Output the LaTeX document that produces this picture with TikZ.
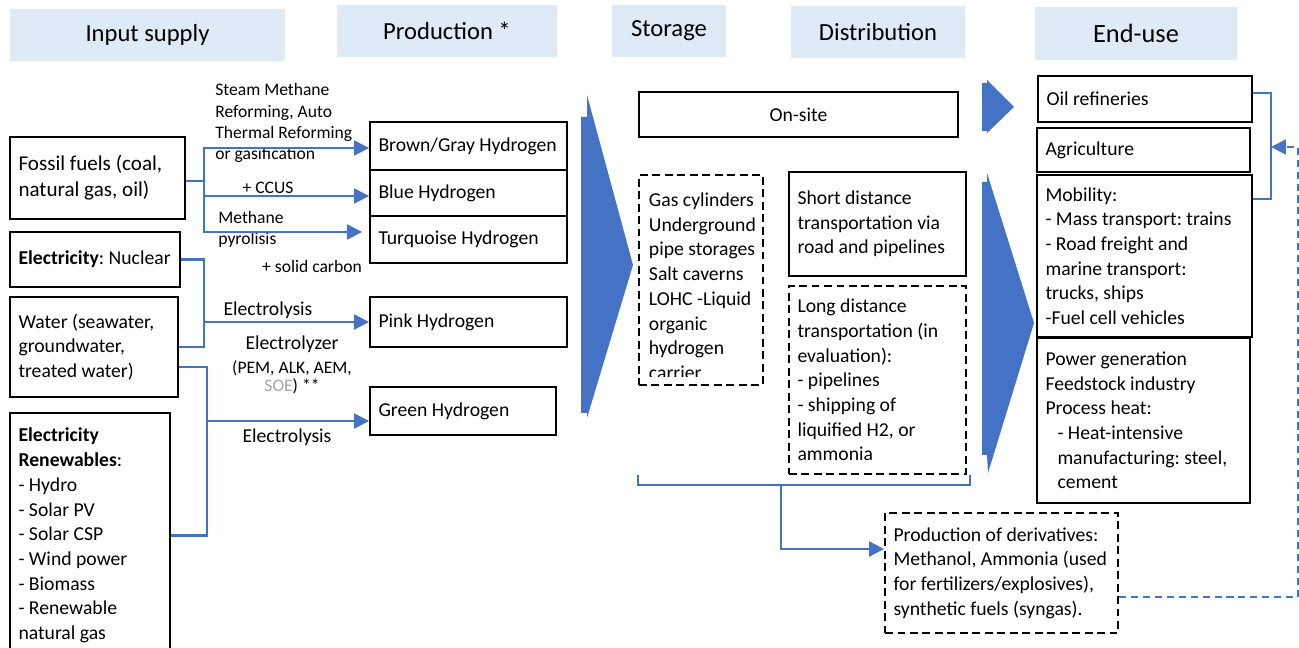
\documentclass[tikz,border=0pt]{standalone}
\usepackage{fontspec}
\setmainfont{Carlito}
\usepackage{xcolor}
\definecolor{Hblue}{RGB}{68,114,196}
\definecolor{Hhead}{RGB}{222,234,246}
\definecolor{Hgray}{RGB}{165,165,165}
\usepackage{tikz}
\usetikzlibrary{calc, positioning, arrows.meta}
\hyphenpenalty=10000
\exhyphenpenalty=10000

\begin{document}
\begin{tikzpicture}[
  x=0.02cm, y=-0.02cm,
  header/.style={
    rectangle, fill=Hhead,
    font=\fontsize{14}{17}\selectfont,
    inner sep=0pt, minimum height=1.04cm
  },
  %% cajas de texto alineado a la izquierda
  box/.style={
    rectangle, draw=black, line width=1.1pt,
    font=\fontsize{11.2}{14.05}\selectfont,
    align=flush left, inner xsep=0.17cm, inner ysep=0pt
  },
  dbox/.style={
    box, dash pattern=on 4.5pt off 2.6pt
  },
  lbl/.style={
    font=\fontsize{10}{12}\selectfont,
    inner sep=0pt, align=flush left
  },
  conn/.style={
    draw=Hblue, line width=1.2pt
  },
  arr/.style={
    conn, -{Triangle[length=8.5pt, width=8.5pt]}
  },
  %% retorno de derivados -- discontinuo
  fback/.style={
    arr, dash pattern=on 4pt off 2.8pt
  },
  bigarr/.style={
    fill=Hblue
  }
]
\useasboundingbox (0,0) rectangle (1299,648);

%% ── Cabeceras ───────────────────────────────────────────────────────────────
\node[header, minimum width=5.5cm] (hInput) at (147.5,35) {Input supply};
\node[header, minimum width=4.4cm] (hProd) at (447,31) {Production *};
\node[header, minimum width=2.3cm] (hStor) at (669,31) {Storage};
\node[header, minimum width=3.48cm] (hDist) at (878,32) {Distribution};
\node[header, minimum width=4.04cm, minimum height=1.06cm,
      font=\fontsize{15}{18}\selectfont] (hEnd) at (1136,33.5) {End-use};

%% ── Input supply ────────────────────────────────────────────────────────────
\node[box, font=\fontsize{12}{14.8}\selectfont,
      text width=3.16cm, minimum height=1.64cm] (fossil) at (97.5,178)
  {Fossil fuels (coal,\\natural gas, oil)};
\node[box, text width=3.06cm, minimum height=1.1cm] (nuclear) at (95,259.5)
  {\textbf{Electricity}:~Nuclear};
\node[box, text width=3.02cm, minimum height=2.0cm] (water) at (94,347)
  {Water (seawater,\\groundwater,\\treated water)};
\node[box, text width=2.86cm, minimum height=4.9cm] (renew) at (90,535.5)
  {\textbf{Electricity}\\\textbf{Renewables}:\\- Hydro\\- Solar PV\\
   - Solar CSP\\- Wind power\\- Biomass\\- Renewable\\natural gas};

%% ── Production ──────────────────────────────────────────────────────────────
\node[box, text width=3.6cm, minimum height=0.96cm] (brown) at (468.5,146)
  {Brown/Gray~Hydrogen};
\node[box, text width=3.6cm, minimum height=0.92cm] (blueh) at (468.5,193)
  {Blue Hydrogen};
\node[box, text width=3.6cm, minimum height=0.94cm] (turq) at (468.5,239.5)
  {Turquoise Hydrogen};
\node[box, text width=3.6cm, minimum height=1.0cm] (pink) at (468.5,322)
  {Pink Hydrogen};
\node[box, text width=3.38cm, minimum height=0.96cm] (green) at (463,411)
  {Green Hydrogen};

%% etiquetas de procesos
\node[lbl, anchor=west] (lbSMR) at (215,123)
  {Steam Methane\\Reforming, Auto\\Thermal Reforming\\or gasification};
\node[lbl] (lbCCUS) at (268,188) {+ CCUS};
\node[lbl, anchor=west] (lbPyro) at (218,229) {Methane\\pyrolisis};
\node[lbl] (lbSolid) at (312,266) {+ solid carbon};
\node[lbl, font=\fontsize{11.2}{13.9}\selectfont] (lbElec1) at (268,310)
  {Electrolysis};
\node[lbl, font=\fontsize{11.2}{13.9}\selectfont] (lbElyz) at (292,344)
  {Electrolyzer};
\node[lbl, align=center, font=\fontsize{10}{10.3}\selectfont] (lbPem) at (292,377)
  {(PEM, ALK, AEM,\\\textcolor{Hgray}{SOE}) **};
\node[lbl, font=\fontsize{11.2}{13.9}\selectfont] (lbElec2) at (287,437)
  {Electrolysis};

%% ── Storage ─────────────────────────────────────────────────────────────────
\fill[bigarr] (581,117) -- (587,117) -- (587,95) -- (633,265)
  -- (587,418) -- (587,413) -- (581,413) -- cycle;

\node[box, align=center, minimum width=6.38cm, minimum height=0.9cm] (onsite)
  at (798.5,114.5) {On-site};

\node[dbox, minimum width=2.48cm, minimum height=4.2cm] (stor) at (701,280) {};
\begin{scope}
  \clip (stor.north west) rectangle ([yshift=0.18cm]stor.south east);
  \node[box, draw=none, inner sep=0pt, anchor=north west] (storlist) at (648,192)
    {Gas cylinders\\Underground\\pipe storages\\Salt caverns\\
     LOHC -Liquid\\organic\\hydrogen\\carrier};
\end{scope}

%% ── Distribution ────────────────────────────────────────────────────────────
\node[box, text width=3.2cm, minimum height=2.08cm] (short) at (877.5,224)
  {Short distance\\transportation via\\road and pipelines};
\node[dbox, text width=3.2cm, minimum height=3.76cm] (longd) at (877.5,380)
  {Long distance\\transportation (in\\evaluation):\\- pipelines\\
   - shipping of\\liquified H2, or\\ammonia};

\node[dbox, text width=4.32cm, minimum height=2.4cm] (deriv) at (1001.5,573)
  {Production of derivatives:\\Methanol,~Ammonia~(used\\
   for fertilizers/explosives),\\synthetic fuels (syngas).};

%% ── End-use ─────────────────────────────────────────────────────────────────
\fill[bigarr] (982,83) -- (987,83) -- (987,80) -- (1014,107)
  -- (987,133) -- (987,131) -- (982,131) -- cycle;
\fill[bigarr] (982,182) -- (987,182) -- (987,173) -- (1034,323)
  -- (988,473) -- (987,455) -- (982,455) -- cycle;

\node[box, text width=3.94cm, minimum height=0.92cm] (oil) at (1145,99)
  {Oil refineries};
\node[box, text width=3.92cm, minimum height=0.88cm] (agri) at (1143.5,150)
  {Agriculture};
\node[box, text width=3.96cm, minimum height=3.24cm] (mob) at (1144.5,256)
  {Mobility:\\- Mass transport:~trains\\- Road freight and\\
   marine transport:\\trucks, ships\\-Fuel cell vehicles};
\node[box, text width=3.92cm, minimum height=3.3cm] (power) at (1143.5,420.5)
  {Power generation\\Feedstock industry\\Process heat:\\
   \hspace*{0.24cm}- Heat-intensive\\
   \hspace*{0.24cm}manufacturing:~steel,\\
   \hspace*{0.24cm}cement};

%% ────────────────── FLECHAS ─────────────────────────────────────────────────
\coordinate (fossj) at (204,181);
\coordinate (pinkj) at (204,322);
\coordinate (greenj) at (207,421);
\coordinate (split) at (781,485);
\coordinate (brk) at (1271,147);

%% Fossil fuels -> brown / blue / turquoise
\draw[conn] (fossil.east |- fossj) -- (fossj);
\draw[arr] (fossj) |- ([yshift=-0.04cm]brown.west);
\draw[arr] (fossj) |- ([yshift=-0.06cm]blueh.west);
\draw[arr, shorten >=0.14cm] (fossj) |- ([yshift=0.15cm]turq.west);

%% Nuclear + water -> pink
\draw[conn] (nuclear.east) -| (pinkj) |- (water.east);
\draw[arr] (pinkj) -- (pinkj -| pink.west);

%% Water + renewables -> green
\draw[conn] ([yshift=-0.4cm]water.east) -| (greenj) |- (renew.east);
\draw[arr] (greenj) -- (greenj -| green.west);

%% Storage / distribution -> derivatives
\draw[conn] (stor.west |- longd.south) -- ++(0,10)
  -| ([xshift=0.06cm]longd.south east);
\draw[arr] (split) |- ([yshift=0.48cm]deriv.west);

%% End-use bracket and return
\draw[conn] ([yshift=0.12cm]oil.east) -| (brk) |- ([yshift=-0.5cm]mob.north east);
\draw[fback] ([yshift=-0.48cm]deriv.east) -- ++(179,0) |- (brk);

\end{tikzpicture}
\end{document}
